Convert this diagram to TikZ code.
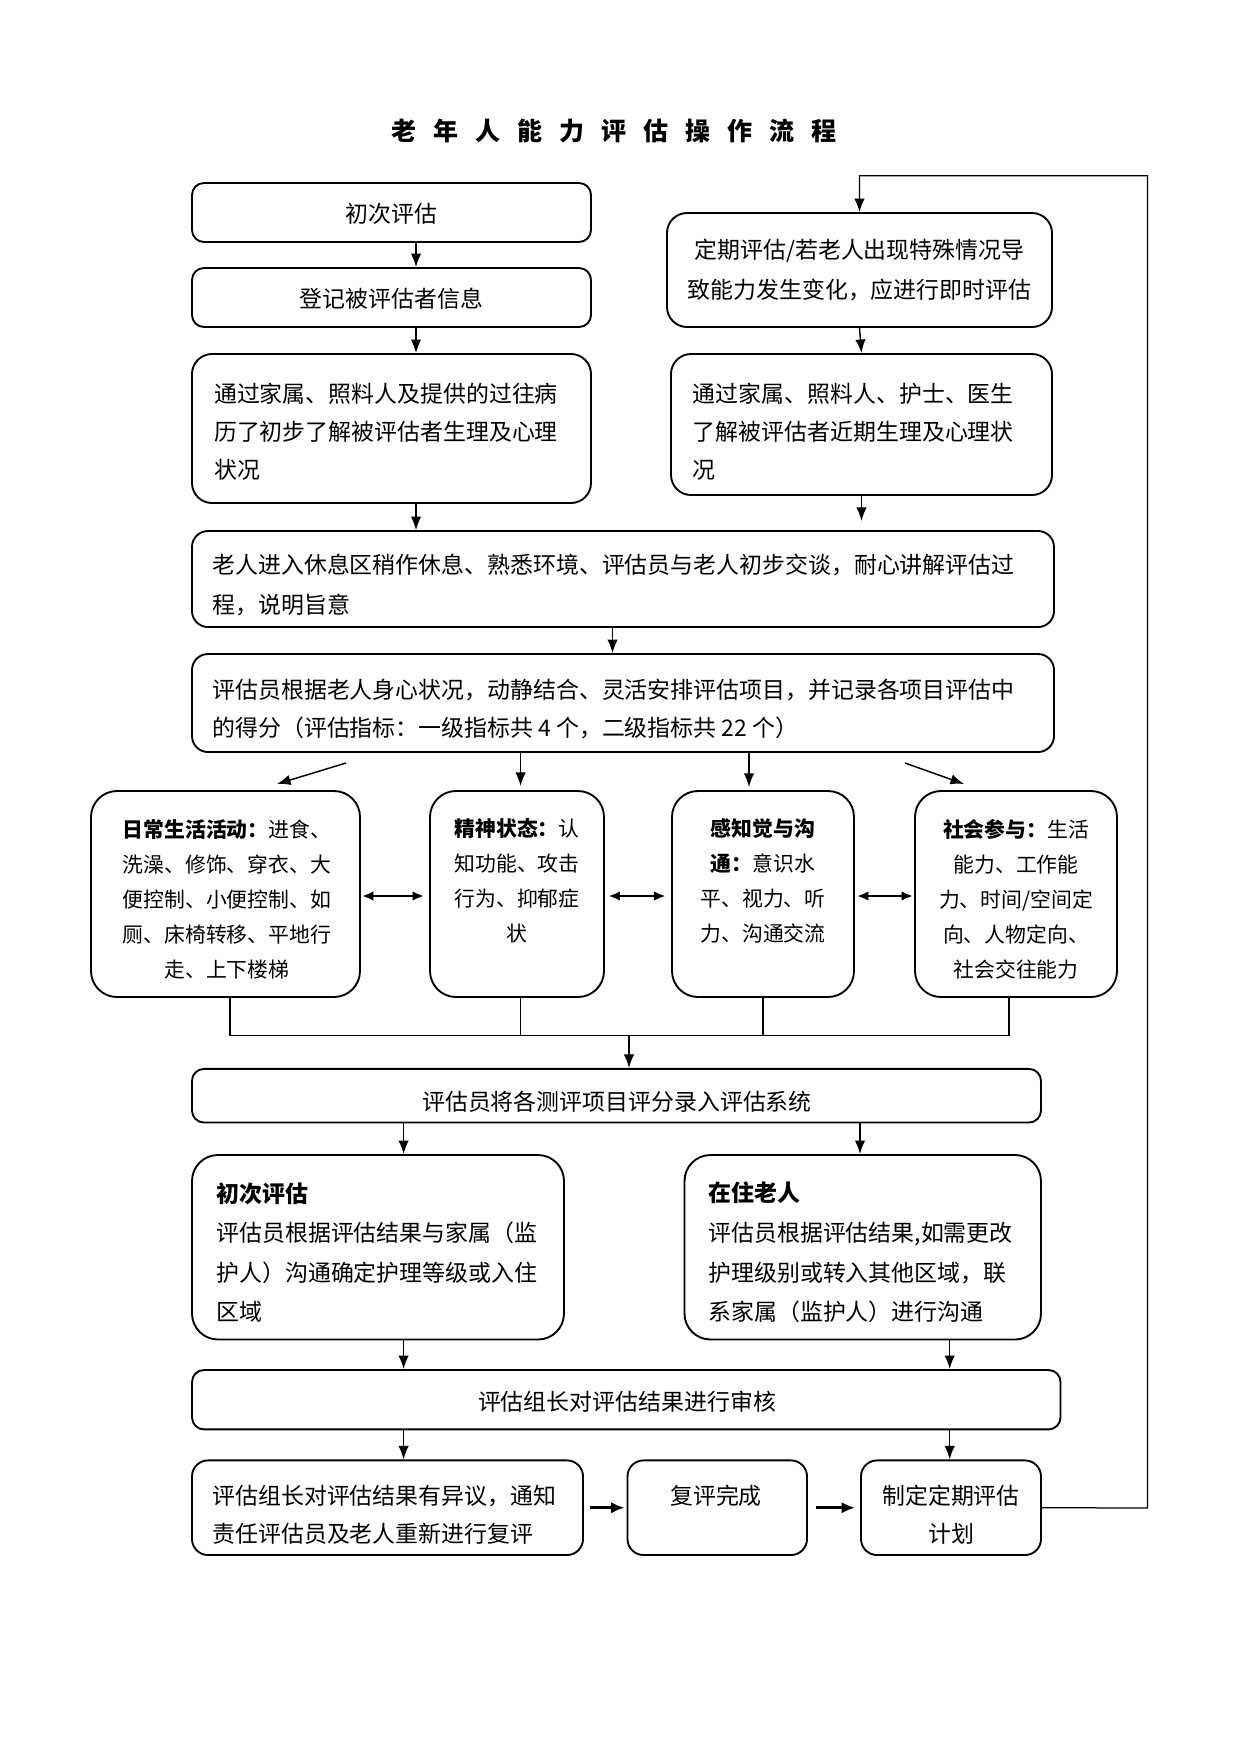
\documentclass[tikz,border=0pt]{standalone}
\usepackage{fontspec}
\setmainfont{Noto Sans CJK SC}
\usetikzlibrary{arrows.meta}
\def\pxu{0.48pt}
\begin{document}
\begin{tikzpicture}[x=0.48pt,y=-0.48pt,
  box/.style={draw, line width=0.9pt, rounded corners=12*\pxu, inner sep=0pt},
  bigbox/.style={box, rounded corners=26*\pxu},
  arr/.style={-{Latex[length=6.5pt,width=5pt]}, line width=0.7pt},
  tarr/.style={-{Latex[length=6.5pt,width=5.5pt]}, line width=1.5pt},
  darr/.style={{Latex[length=5.5pt,width=4.6pt]}-{Latex[length=5.5pt,width=4.6pt]}, line width=1.1pt},
  plain/.style={line width=0.7pt},
  txt/.style={inner sep=0pt, font=\fontsize{11}{18.4}\selectfont},
  stxt/.style={inner sep=0pt, align=center, font=\fontsize{10}{16.8}\selectfont},
  lt/.style={txt, anchor=west, align=left},
]
\useasboundingbox (0,0) rectangle (1241,1754);

% title
\node[inner sep=0pt, font=\fontsize{12}{14}\selectfont\bfseries] (title) at (614,131.5)
  {老\hspace{8.2pt}年\hspace{8.2pt}人\hspace{8.2pt}能\hspace{8.2pt}力\hspace{8.2pt}评\hspace{8.2pt}估\hspace{8.2pt}操\hspace{8.2pt}作\hspace{8.2pt}流\hspace{8.2pt}程};

% boxes
\node[box, minimum width=399*\pxu, minimum height=59*\pxu] (b1) at (391.5,212.5) {};
\node[box, minimum width=399*\pxu, minimum height=59*\pxu] (b2) at (391.5,297.5) {};
\node[box, rounded corners=20*\pxu, minimum width=399*\pxu, minimum height=149*\pxu] (b3) at (391.5,428.5) {};
\node[box, rounded corners=20*\pxu, minimum width=385*\pxu, minimum height=114*\pxu] (r1) at (859.5,270) {};
\node[box, rounded corners=20*\pxu, minimum width=381*\pxu, minimum height=141*\pxu] (r2) at (861.5,424.5) {};
\node[box, rounded corners=16*\pxu, minimum width=862*\pxu, minimum height=96*\pxu] (b4) at (623,579) {};
\node[box, rounded corners=16*\pxu, minimum width=862*\pxu, minimum height=98*\pxu] (b5) at (623,703) {};
\node[bigbox, minimum width=269*\pxu, minimum height=206*\pxu] (A) at (225.5,894) {};
\node[bigbox, minimum width=174*\pxu, minimum height=206*\pxu] (B) at (517,894) {};
\node[bigbox, minimum width=182*\pxu, minimum height=206*\pxu] (C) at (763,894) {};
\node[bigbox, minimum width=202*\pxu, minimum height=206*\pxu] (D) at (1016,894) {};
\node[box, minimum width=849*\pxu, minimum height=53.6*\pxu] (b6) at (616.5,1095.7) {};
\node[bigbox, minimum width=372*\pxu, minimum height=184.5*\pxu] (b7) at (378,1247.25) {};
\node[bigbox, minimum width=356.5*\pxu, minimum height=184.5*\pxu] (b8) at (862.75,1247.25) {};
\node[box, minimum width=868.5*\pxu, minimum height=59.4*\pxu] (b9) at (626.25,1399.7) {};
\node[box, rounded corners=16*\pxu, minimum width=391*\pxu, minimum height=94.6*\pxu] (b10) at (387.5,1507.7) {};
\node[box, rounded corners=16*\pxu, minimum width=179.5*\pxu, minimum height=94.6*\pxu] (b11) at (717.25,1507.7) {};
\node[box, rounded corners=16*\pxu, minimum width=180*\pxu, minimum height=94.6*\pxu] (b12) at (951,1507.7) {};

% texts
\node[txt] (t1) at (391.5,214) {初次评估};
\node[txt] (t2) at (391.5,299) {登记被评估者信息};
\node[lt] (t3) at (213.7,431.7) {通过家属、照料人及提供的过往病\\历了初步了解被评估者生理及心理\\状况};
\node[txt, align=center, font=\fontsize{11}{19.2}\selectfont] (tr1) at (859.5,270) {定期评估/若老人出现特殊情况导\\致能力发生变化，应进行即时评估};
\node[lt] (tr2) at (692.5,431.7) {通过家属、照料人、护士、医生\\了解被评估者近期生理及心理状\\况};
\node[lt, font=\fontsize{11}{19.2}\selectfont] (t4) at (212,585) {老人进入休息区稍作休息、熟悉环境、评估员与老人初步交谈，耐心讲解评估过\\程，说明旨意};
\node[lt] (t5) at (212,709) {评估员根据老人身心状况，动静结合、灵活安排评估项目，并记录各项目评估中\\的得分（评估指标：一级指标共 4 个，二级指标共 22 个）};
\node[stxt] (tA) at (227,899) {{\bfseries 日常生活活动：}进食、\\洗澡、修饰、穿衣、大\\便控制、小便控制、如\\厕、床椅转移、平地行\\走、上下楼梯};
\node[stxt] (tB) at (517,881) {{\bfseries 精神状态：}认\\知功能、攻击\\行为、抑郁症\\状};
\node[stxt] (tC) at (763,881) {{\bfseries 感知觉与沟}\\{\bfseries 通：}意识水\\平、视力、听\\力、沟通交流};
\node[stxt] (tD) at (1016,899) {{\bfseries 社会参与：}生活\\能力、工作能\\力、时间/空间定\\向、人物定向、\\社会交往能力};
\node[txt] (t6) at (617,1101.4) {评估员将各测评项目评分录入评估系统};
\node[lt, font=\fontsize{11}{19}\selectfont] (t7) at (216,1252.6) {{\bfseries 初次评估}\\评估员根据评估结果与家属（监\\护人）沟通确定护理等级或入住\\区域};
\node[lt, font=\fontsize{11}{19}\selectfont] (t8) at (708,1252.6) {{\bfseries 在住老人}\\评估员根据评估结果,如需更改\\护理级别或转入其他区域，联\\系家属（监护人）进行沟通};
\node[txt] (t9) at (627,1401.8) {评估组长对评估结果进行审核};
\node[lt, font=\fontsize{11}{18.4}\selectfont] (t10) at (212,1514.8) {评估组长对评估结果有异议，通知\\责任评估员及老人重新进行复评};
\node[txt] (t11) at (716,1495.6) {复评完成};
\node[txt, align=center, font=\fontsize{11}{18.4}\selectfont] (t12) at (951,1514.8) {制定定期评估\\计划};

% helper coordinates
\coordinate (xa) at (416,0);
\coordinate (xb) at (612.5,0);
\coordinate (xB) at (520.6,0);
\coordinate (xC) at (749,0);
\coordinate (xl) at (403.6,0);
\coordinate (xr) at (860,0);
\coordinate (xr2) at (949.7,0);
\coordinate (xm) at (629,0);

% left column arrows
\draw[arr] (b1.south -| xa) -- (b2.north -| xa);
\draw[arr] (b2.south -| xa) -- (b3.north -| xa);
\draw[arr] (b3.south -| xa) -- (b4.north -| xa);
% right column arrows
\draw[arr] (r1.south) -- (r2.north);
\coordinate (r2end) at (861.5,521);
\draw[arr] (r2.south) -- (r2end);
\draw[arr] (b4.south -| xb) -- (b5.north -| xb);

% fan out to four categories
\coordinate (fa1) at (346,763); \coordinate (fa2) at (277,784);
\draw[arr] (fa1) -- (fa2);
\coordinate (fb2) at (520.6,786);
\draw[arr] (b5.south -| xB) -- (fb2);
\coordinate (fc2) at (749,787);
\draw[arr] (b5.south -| xC) -- (fc2);
\coordinate (fd1) at (905,763); \coordinate (fd2) at (964,784);
\draw[arr] (fd1) -- (fd2);

% double arrows between categories
\coordinate (d1a) at (362,896); \coordinate (d1b) at (424,896);
\coordinate (d2a) at (608.5,896); \coordinate (d2b) at (665.6,896);
\coordinate (d3a) at (857,896); \coordinate (d3b) at (913,896);
\draw[darr] (d1a) -- (d1b);
\draw[darr] (d2a) -- (d2b);
\draw[darr] (d3a) -- (d3b);

% collecting lines
\coordinate (cA) at (230,1035.6);
\coordinate (cB) at (520.6,1035.6);
\coordinate (cC) at (763,1035.6);
\coordinate (cD) at (1009,1035.6);
\draw[plain] (A.south -| cA) -- (cA);
\draw[plain] (B.south -| cB) -- (cB);
\draw[plain] (C.south -| cC) -- (cC);
\draw[plain] (D.south -| cD) -- (cD);
\draw[plain] (cA) -- (cD);
\coordinate (cm) at (629,1035.6);
\draw[arr] (cm) -- (b6.north -| xm);

% lower arrows
\draw[arr] (b6.south -| xl) -- (b7.north -| xl);
\draw[arr] (b6.south -| xr) -- (b8.north -| xr);
\draw[arr] (b7.south -| xl) -- (b9.north -| xl);
\draw[arr] (b8.south -| xr2) -- (b9.north -| xr2);
\draw[arr] (b9.south -| xl) -- (b10.north -| xl);
\draw[arr] (b9.south -| xr2) -- (b12.north -| xr2);
\draw[tarr] ([xshift=6*\pxu]b10.east) -- ([xshift=-2*\pxu]b11.west);
\draw[tarr] ([xshift=8*\pxu]b11.east) -- ([xshift=-5*\pxu]b12.west);

% feedback loop
\coordinate (lp1) at (1147.5,1508);
\coordinate (lp2) at (1147.5,175.7);
\coordinate (lp3) at (859.5,175.7);
\draw[arr, line width=0.6pt] (b12.east) -- (lp1) -- (lp2) -- (lp3) -- (r1.north);
\end{tikzpicture}
\end{document}
